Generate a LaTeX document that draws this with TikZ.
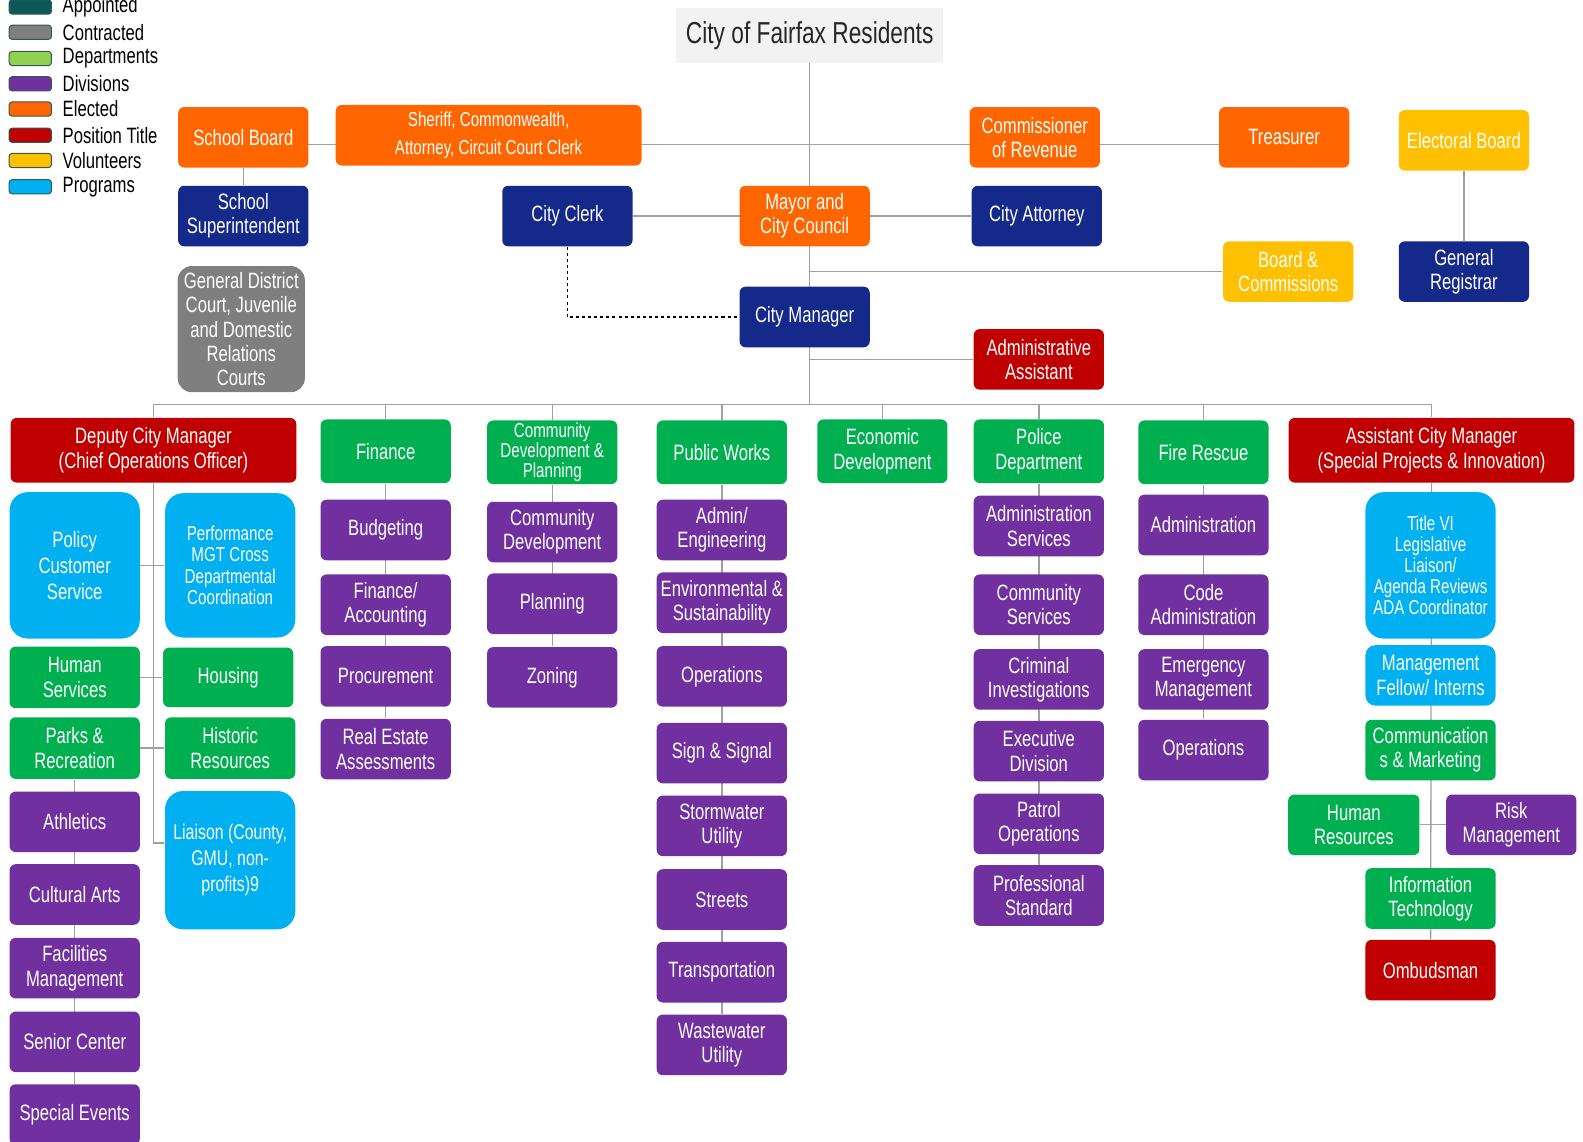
\documentclass[tikz,border=0pt]{standalone}
\usepackage{fontspec}
\setmainfont[FakeStretch=0.75]{Liberation Sans}
\usetikzlibrary{positioning,backgrounds}
\definecolor{deptgreen}{HTML}{00B050}
\definecolor{legdept}{HTML}{92D050}
\definecolor{divpurple}{HTML}{7030A0}
\definecolor{navy}{HTML}{14298A}
\definecolor{elected}{HTML}{FF6600}
\definecolor{postred}{HTML}{C00000}
\definecolor{volunteer}{HTML}{FFC000}
\definecolor{program}{HTML}{00B0F0}
\definecolor{contract}{HTML}{7F7F7F}
\definecolor{appointed}{HTML}{0E5858}
\definecolor{swatchrim}{HTML}{2E5A5A}
\definecolor{linegray}{HTML}{A0A0A0}
\definecolor{titlegray}{HTML}{F2F2F2}
\definecolor{titletext}{HTML}{262626}
\tikzset{
every picture/.style={
line width=1.3pt
}}

\begin{document}
\begin{tikzpicture}[x=1pt, y=-1pt,
box/.style = {rectangle, rounded corners=6pt, minimum width=129pt, minimum height=60pt, inner sep=1pt, align=center, text=white, font=\fontsize{22}{24}\selectfont},
dept/.style = {box, fill=deptgreen, minimum height=63pt},
divn/.style = {box, fill=divpurple},
elec/.style = {box, fill=elected},
appt/.style = {box, fill=navy},
post/.style = {box, fill=postred},
volu/.style = {box, fill=volunteer},
prog/.style = {box, fill=program, rounded corners=18pt},
link/.style = {draw=linegray, line width=1.3pt},
swatch/.style = {rectangle, rounded corners=3pt, minimum width=42pt, minimum height=14pt, inner sep=0pt, draw=swatchrim, line width=1pt},
legtext/.style = {font=\fontsize{22}{24}\selectfont, inner sep=0pt, anchor=west}]
\useasboundingbox (0,0) rectangle (1568,1131);

% legend
\foreach \nm/\col/\txt/\yy in {app/appointed/Appointed/7, con/contract/Contracted/32,
  dep/legdept/Departments/58, dvs/divpurple/Divisions/83, ele/elected/Elected/108,
  pos/postred/Position Title/134, vlt/volunteer/Volunteers/159, prg/program/Programs/185}{
  \node[swatch, fill=\col] at (30,\yy) (lg\nm) {};
  \node[legtext, right=10pt of lg\nm] (lt\nm) {\txt};
}

% top of the chart
\node[fill=titlegray, minimum width=265pt, minimum height=54pt, font=\fontsize{30}{32}\selectfont, text=titletext] at (802,35) (res) {City of Fairfax Residents};
\node[elec] at (241,136) (sb) {School Board};
\node[elec, minimum width=303pt, font=\fontsize{20}{27}\selectfont] at (484,134) (shf) {Sheriff, Commonwealth,\\Attorney, Circuit Court Clerk};
\node[elec] at (1025,136) (com) {Commissioner\\of Revenue};
\node[elec] at (1272,136) (tre) {Treasurer};
\node[volu] at (1450,139) (elb) {Electoral Board};
\node[appt] at (241,214) (sup) {School\\Superintendent};
\node[appt] at (562,214) (clk) {City Clerk};
\node[elec] at (797,214) (may) {Mayor and\\City Council};
\node[appt] at (1027,214) (att) {City Attorney};
\node[volu] at (1276,269) (bc) {Board \&\\Commissions};
\node[appt] at (1450,269) (reg) {General\\Registrar};
\node[box, fill=contract, minimum width=126pt, minimum height=125pt, rounded corners=14pt] at (239,326) (gdc) {General District\\Court, Juvenile\\and Domestic\\Relations\\Courts};
\node[appt] at (797,314) (cm) {City Manager};
\node[post] at (1029,356) (aa) {Administrative\\Assistant};

% departments
\coordinate (bus) at (0,401);
\node[post, minimum width=283pt, minimum height=64pt] at (152,446) (dcm) {Deputy City Manager\\(Chief Operations Officer)};
\node[dept] at (382,447) (fin) {Finance};
\node[dept, font=\fontsize{20}{20}\selectfont] at (547,448) (cdp) {Community\\Development \&\\Planning};
\node[dept] at (715,448) (pw) {Public Works};
\node[dept] at (874,447) (ed) {Economic\\Development};
\node[dept] at (1029,447) (pd) {Police\\Department};
\node[dept] at (1192,448) (fr) {Fire Rescue};
\node[post, minimum width=283pt, minimum height=64pt] at (1418,446) (acm) {Assistant City Manager\\(Special Projects \& Innovation)};

% deputy city manager
\node[prog, minimum height=145pt, font=\fontsize{22}{26}\selectfont] at (74,560) (pcs) {Policy\\Customer\\Service};
\node[prog, minimum height=143pt, font=\fontsize{20}{21}\selectfont] at (228,560) (pmc) {Performance\\MGT Cross\\Departmental\\Coordination};
\node[dept, minimum height=61pt] at (74,671) (hus) {Human\\Services};
\node[dept, minimum height=59pt] at (226,671) (hou) {Housing};
\node[dept, minimum height=61pt] at (74,741) (prk) {Parks \&\\Recreation};
\node[dept, minimum height=61pt] at (228,741) (his) {Historic\\Resources};
\node[divn] at (74,814) (ath) {Athletics};
\node[prog, minimum height=137pt, font=\fontsize{21}{26}\selectfont] at (228,852) (lia) {Liaison (County,\\GMU, non-\\profits)9};
\node[divn] at (74,886) (cua) {Cultural Arts};
\node[divn] at (74,959) (fcm) {Facilities\\Management};
\node[divn] at (74,1032) (sen) {Senior Center};
\node[divn] at (74,1104) (spe) {Special Events};

% finance
\node[divn] at (382,525) (bud) {Budgeting};
\node[divn] at (382,599) (fna) {Finance/\\Accounting};
\node[divn] at (382,670) (pro) {Procurement};
\node[divn] at (382,742) (rea) {Real Estate\\Assessments};

% community development and planning
\node[divn] at (547,527) (cdv) {Community\\Development};
\node[divn] at (547,598) (pln) {Planning};
\node[divn] at (547,671) (zon) {Zoning};

% public works
\node[divn] at (715,525) (adm) {Admin/\\Engineering};
\node[divn] at (715,597) (env) {Environmental \&\\Sustainability};
\node[divn] at (715,670) (ops) {Operations};
\node[divn] at (715,746) (sgn) {Sign \& Signal};
\node[divn] at (715,818) (stw) {Stormwater\\Utility};
\node[divn] at (715,891) (str) {Streets};
\node[divn] at (715,963) (trn) {Transportation};
\node[divn] at (715,1035) (wst) {Wastewater\\Utility};

% police
\node[divn] at (1029,521) (pas) {Administration\\Services};
\node[divn] at (1029,599) (pcs2) {Community\\Services};
\node[divn] at (1029,673) (pci) {Criminal\\Investigations};
\node[divn] at (1029,744) (ped) {Executive\\Division};
\node[divn] at (1029,816) (ppo) {Patrol\\Operations};
\node[divn] at (1029,887) (pps) {Professional\\Standard};

% fire rescue
\node[divn] at (1192,520) (fad) {Administration};
\node[divn] at (1192,599) (fca) {Code\\Administration};
\node[divn] at (1192,673) (fem) {Emergency\\Management};
\node[divn] at (1192,743) (fop) {Operations};

% assistant city manager
\node[prog, minimum height=145pt, font=\fontsize{20}{21}\selectfont] at (1417,560) (tvi) {Title VI\\Legislative\\Liaison/\\Agenda Reviews\\ADA Coordinator};
\node[prog, rounded corners=10pt] at (1417,669) (mfi) {Management\\Fellow/ Interns};
\node[dept, minimum height=60pt] at (1417,743) (cmk) {Communication\\s \& Marketing};
\node[dept, minimum height=60pt, minimum width=130pt] at (1341,817) (hr) {Human\\Resources};
\node[divn] at (1497,817) (rsk) {Risk\\Management};
\node[dept, minimum height=60pt] at (1417,890) (itc) {Information\\Technology};
\node[post] at (1417,961) (omb) {Ombudsman};

\begin{scope}[on background layer]
\draw[link] (res.south) -- (res.south |- bus);
\draw[link] ([yshift=-7pt]sb.center) -- ([yshift=-7pt]tre.center);
\draw[link] (sb) -- (sup);
\draw[link] (clk) -- (att);
\draw[draw=black, dashed, line width=1pt] (clk.south) |- (cm.west);
\draw[link] (bc.west) -- (bc.west -| res.south);
\draw[link] (aa.west) -- (aa.west -| res.south);
\draw[link] (elb) -- (reg);
\draw[link] (dcm.north) -- (dcm.north |- bus) -- (acm.north |- bus) -- (acm.north);
\foreach \d in {fin,cdp,pw,ed,pd,fr}
  \draw[link] (\d.north) -- (\d.north |- bus);
\draw[link] (dcm.south) |- ([yshift=17pt]lia.west);
\draw[link] (pcs) -- (pmc);
\draw[link] (hus) -- (hou);
\draw[link] (prk) -- (his);
\draw[link] (prk) -- (spe);
\draw[link] (fin) -- (rea);
\draw[link] (cdp) -- (zon);
\draw[link] (pw) -- (wst);
\draw[link] (pd) -- (pps);
\draw[link] (fr) -- (fop);
\draw[link] (acm) -- (omb);
\draw[link] (hr) -- (rsk);
\end{scope}
\end{tikzpicture}
\end{document}
